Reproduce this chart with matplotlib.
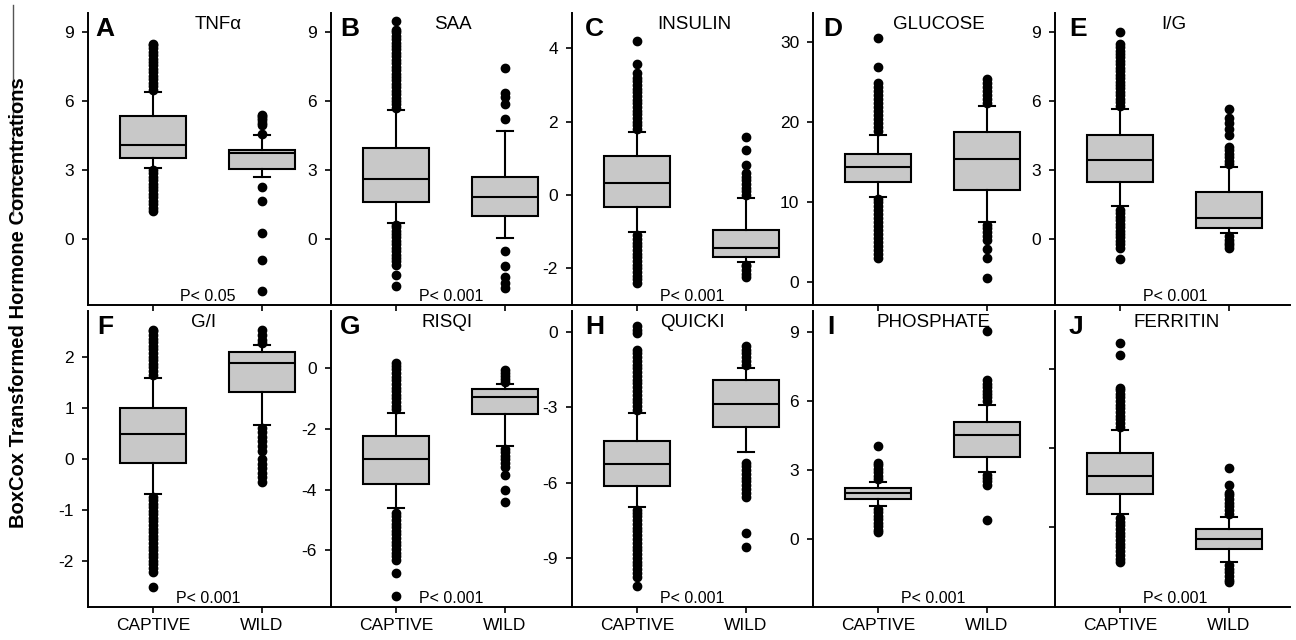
import matplotlib
matplotlib.use('Agg')
import matplotlib.pyplot as plt
from matplotlib.lines import Line2D

plt.rcParams['font.family'] = ['Liberation Sans', 'DejaVu Sans']
plt.rcParams['axes.unicode_minus'] = False

# ---------------- data ----------------
groups = ['CAPTIVE', 'WILD']
letters = ['A', 'B', 'C', 'D', 'E', 'F', 'G', 'H', 'I', 'J']
titles = ['TNF\u03b1', 'SAA', 'INSULIN', 'GLUCOSE', 'I/G',
          'G/I', 'RISQI', 'QUICKI', 'PHOSPHATE', 'FERRITIN']
p_texts = ['P< 0.05', 'P< 0.001', 'P< 0.001', '', 'P< 0.001',
           'P< 0.001', 'P< 0.001', 'P< 0.001', 'P< 0.001', 'P< 0.001']

# box stats: (whislo, q1, med, q3, whishi) for [CAPTIVE, WILD]
tnf_stats = [(3.09, 3.53, 4.10, 5.34, 6.40), (2.69, 3.04, 3.75, 3.88, 4.50)]
tnf_fliers = [[1.2, 1.35, 1.5, 1.65, 1.8, 1.95, 2.1, 2.25, 2.4, 2.55, 2.7, 2.85, 3.0,
               6.5, 6.65, 6.8, 6.95, 7.1, 7.25, 7.4, 7.55, 7.7, 7.85, 8.0, 8.15, 8.3, 8.45, 8.5],
              [-2.29, -0.93, 0.26, 1.63, 2.25, 4.55, 4.95, 5.05, 5.15, 5.25, 5.35, 5.4]]

saa_stats = [(0.66, 1.59, 2.60, 3.97, 5.60), (0.04, 0.97, 1.81, 2.69, 4.68)]
saa_fliers = [[-2.07, -1.59, -1.15, -1.0, -0.85, -0.7, -0.55, -0.4, -0.25, -0.1, 0.05, 0.2, 0.35, 0.5, 0.6,
               5.7, 5.85, 6.0, 6.15, 6.3, 6.45, 6.6, 6.75, 6.9, 7.05, 7.2, 7.35, 7.5, 7.65, 7.8, 7.95,
               8.1, 8.25, 8.4, 8.55, 8.7, 8.85, 9.0, 9.08, 9.48],
              [-2.16, -1.94, -1.68, -1.19, -0.53, 5.21, 5.87, 6.17, 6.35, 7.45]]

ins_stats = [(-1.00, -0.33, 0.33, 1.06, 1.72), (-1.83, -1.69, -1.45, -0.95, -0.08)]
ins_fliers = [[-2.4, -2.3, -2.2, -2.1, -2.0, -1.9, -1.8, -1.7, -1.6, -1.5, -1.4, -1.3, -1.2, -1.1,
               1.8, 1.9, 2.0, 2.1, 2.2, 2.3, 2.4, 2.5, 2.6, 2.7, 2.8, 2.9, 3.0, 3.1, 3.2, 3.33, 3.57, 4.2],
              [-2.24, -2.15, -2.05, -1.95, -1.9, 0.0, 0.1, 0.2, 0.3, 0.4, 0.5, 0.6, 0.82, 1.23, 1.58]]

glu_stats = [(10.6, 12.5, 14.4, 16.0, 18.4), (7.5, 11.5, 15.4, 18.7, 22.0)]
glu_fliers = [[3.0, 3.5, 4.0, 4.5, 5.0, 5.5, 6.0, 6.5, 7.0, 7.5, 8.0, 8.5, 9.0, 9.5, 10.0, 10.3,
               18.8, 19.3, 19.8, 20.3, 20.8, 21.3, 21.8, 22.3, 22.8, 23.3, 23.8, 24.3, 24.9, 26.9, 30.5],
              [0.5, 3.0, 4.1, 5.25, 5.7, 6.2, 6.7, 7.1, 22.4, 22.9, 23.4, 23.9, 24.4, 24.9, 25.3]]

ig_stats = [(1.41, 2.47, 3.44, 4.50, 5.65), (0.22, 0.44, 0.88, 2.03, 3.13)]
ig_fliers = [[-0.88, -0.4, -0.25, -0.1, 0.05, 0.2, 0.35, 0.5, 0.65, 0.8, 0.95, 1.1, 1.25,
              5.8, 5.95, 6.1, 6.25, 6.4, 6.55, 6.7, 6.85, 7.0, 7.15, 7.3, 7.45, 7.6, 7.75, 7.9,
              8.05, 8.2, 8.35, 8.47, 9.0],
             [-0.4, -0.3, -0.2, -0.05, 0.1, 3.25, 3.4, 3.55, 3.7, 3.85, 4.0, 4.5, 4.8, 5.03, 5.25, 5.65]]

gi_stats = [(-0.68, -0.08, 0.49, 1.00, 1.58), (0.66, 1.31, 1.87, 2.09, 2.23)]
gi_fliers = [[-2.5, -2.2, -2.13, -2.06, -1.99, -1.92, -1.85, -1.78, -1.71, -1.64, -1.57, -1.5, -1.43,
              -1.36, -1.29, -1.22, -1.15, -1.08, -1.01, -0.94, -0.87, -0.8, -0.74,
              1.65, 1.72, 1.79, 1.86, 1.93, 2.0, 2.07, 2.14, 2.21, 2.28, 2.35, 2.42, 2.49, 2.52],
             [-0.44, -0.35, -0.27, -0.18, -0.1, 0.0, 0.15, 0.25, 0.35, 0.43, 0.52, 0.6,
              2.27, 2.33, 2.42, 2.52]]

risqi_stats = [(-4.61, -3.82, -3.00, -2.24, -1.48), (-2.57, -1.52, -0.96, -0.69, -0.53)]
risqi_fliers = [[-7.51, -6.75, -6.33, -6.2, -6.08, -5.96, -5.84, -5.72, -5.6, -5.48, -5.36, -5.24,
                 -5.12, -5.0, -4.88, -4.76,
                 -1.36, -1.24, -1.12, -1.0, -0.88, -0.76, -0.64, -0.52, -0.4, -0.28, -0.16, -0.04,
                 0.08, 0.16],
                [-4.42, -4.02, -3.53, -3.26, -3.13, -3.01, -2.89, -2.77, -2.65,
                 -0.45, -0.35, -0.25, -0.15, -0.07]]

quicki_stats = [(-6.97, -6.14, -5.26, -4.34, -3.23), (-4.78, -3.78, -2.87, -1.91, -1.43)]
quicki_fliers = [[-10.12, -9.76, -9.6, -9.45, -9.3, -9.15, -9.0, -8.85, -8.7, -8.55, -8.4, -8.25,
                  -8.1, -7.95, -7.8, -7.65, -7.5, -7.35, -7.2, -7.08,
                  -3.1, -2.95, -2.8, -2.65, -2.5, -2.35, -2.2, -2.05, -1.9, -1.75, -1.6, -1.45,
                  -1.3, -1.15, -1.0, -0.85, -0.7, -0.04, 0.1, 0.24],
                 [-8.57, -8.0, -6.57, -6.4, -6.25, -6.1, -5.95, -5.8, -5.65, -5.5, -5.35, -5.22,
                  -1.3, -1.15, -1.0, -0.85, -0.7, -0.56]]

phos_stats = [(1.43, 1.74, 2.00, 2.22, 2.48), (2.91, 3.57, 4.52, 5.09, 5.83)]
phos_fliers = [[0.3, 0.4, 0.55, 0.7, 0.85, 1.0, 1.15, 1.3, 2.6, 2.75, 2.9, 3.05, 3.2, 3.3, 4.04],
               [0.83, 2.35, 2.5, 2.65, 2.8, 6.0, 6.15, 6.3, 6.45, 6.6, 6.75, 6.9, 9.04]]

fer_stats = [(0.49, 1.25, 1.94, 2.81, 3.68), (-1.33, -0.84, -0.46, -0.08, 0.38)]
fer_fliers = [[-1.33, -1.2, -1.06, -0.92, -0.78, -0.64, -0.5, -0.36, -0.22, -0.08, 0.06, 0.2, 0.34,
               3.8, 3.94, 4.08, 4.22, 4.36, 4.5, 4.64, 4.78, 4.92, 5.06, 5.2, 5.28, 6.53, 6.99],
              [-2.09, -2.0, -1.86, -1.72, -1.58, -1.45, 0.5, 0.64, 0.78, 0.92, 1.06, 1.2, 1.29, 1.6, 2.24]]

all_stats = [tnf_stats, saa_stats, ins_stats, glu_stats, ig_stats,
             gi_stats, risqi_stats, quicki_stats, phos_stats, fer_stats]
all_fliers = [tnf_fliers, saa_fliers, ins_fliers, glu_fliers, ig_fliers,
              gi_fliers, risqi_fliers, quicki_fliers, phos_fliers, fer_fliers]

ylims = [(-2.9, 9.84), (-2.9, 9.84), (-3.0, 4.96), (-2.9, 33.6), (-2.9, 9.84),
         (-2.89, 2.89), (-7.87, 1.88), (-10.96, 0.84), (-2.96, 9.91), (-3.04, 8.2)]
yticks = [[0, 3, 6, 9], [0, 3, 6, 9], [-2, 0, 2, 4], [0, 10, 20, 30], [0, 3, 6, 9],
          [-2, -1, 0, 1, 2], [-6, -4, -2, 0], [-9, -6, -3, 0], [0, 3, 6, 9], [0, 3, 6]]
show_ylabels = [True] * 9 + [False]

# ---------------- layout (pixels) ----------------
W, H = 1296, 640
lefts = [88, 331, 572, 813, 1055]
right_end = 1290
rows = [(13, 305), (311, 607)]
letter_dx = [7, 9, 13, 10, 14, 9, 9, 13, 14, 14]
title_dx = [130, 122, 122, 126, 119, 116, 116, 120, 121, 122]

fig = plt.figure(figsize=(W / 100, H / 100), dpi=100)

def fx(x):
    return x / W

def fy(y):
    return 1 - y / H

for i in range(10):
    r, c = divmod(i, 5)
    top, bot = rows[r]
    l = lefts[c]
    rgt = lefts[c + 1] if c < 4 else right_end
    w = rgt - l
    ax = fig.add_axes([fx(l), fy(bot), w / W, (bot - top) / H])
    ax.patch.set_alpha(0)
    stats = []
    for g in range(2):
        lo, q1, med, q3, hi = all_stats[i][g]
        stats.append(dict(whislo=lo, q1=q1, med=med, q3=q3, whishi=hi,
                          fliers=all_fliers[i][g], label=groups[g]))
    ax.bxp(stats, positions=[1, 2], widths=0.6, capwidths=0.15, patch_artist=True,
           boxprops=dict(facecolor='#c8c8c8', edgecolor='black', linewidth=1.5),
           medianprops=dict(color='black', linewidth=1.5),
           whiskerprops=dict(color='black', linewidth=1.5),
           capprops=dict(color='black', linewidth=1.5),
           flierprops=dict(marker='o', markerfacecolor='black', markeredgecolor='black',
                           markersize=6, linestyle='none'))
    ax.set_xlim(0.404, 0.404 + w / 109.0)
    ax.set_ylim(*ylims[i])
    ax.set_yticks(yticks[i])
    if not show_ylabels[i]:
        ax.set_yticklabels([])
    ax.set_xticks([1, 2])
    if r == 1:
        ax.set_xticklabels(groups, fontsize=12.5)
    else:
        ax.set_xticklabels([])
    for s in ['top', 'right']:
        ax.spines[s].set_visible(False)
    for s in ['left', 'bottom']:
        ax.spines[s].set_linewidth(1.4)
    ax.tick_params(direction='out', length=4, width=1.2, labelsize=12.5, pad=4, colors='black')
    ax.tick_params(axis='y', pad=6)

    fig.text(fx(l + letter_dx[i]), fy(top + 23), letters[i], fontsize=19, fontweight='bold',
             ha='left', va='baseline')
    fig.text(fx(l + title_dx[i]), fy(top + 16), titles[i], fontsize=13.5,
             ha='center', va='baseline')
    if p_texts[i]:
        fig.text(fx(l + 120), fy(bot - 4), p_texts[i], fontsize=11.5,
                 ha='center', va='baseline')

fig.text(fx(19), fy(303), 'BoxCox Transformed Hormone Concentrations', rotation=90,
         fontsize=14.5, fontweight='bold', ha='center', va='center')
fig.add_artist(Line2D([fx(13), fx(13)], [fy(5), fy(215)], color='#555555', linewidth=1.0))

fig.savefig('out.png', dpi=100)
